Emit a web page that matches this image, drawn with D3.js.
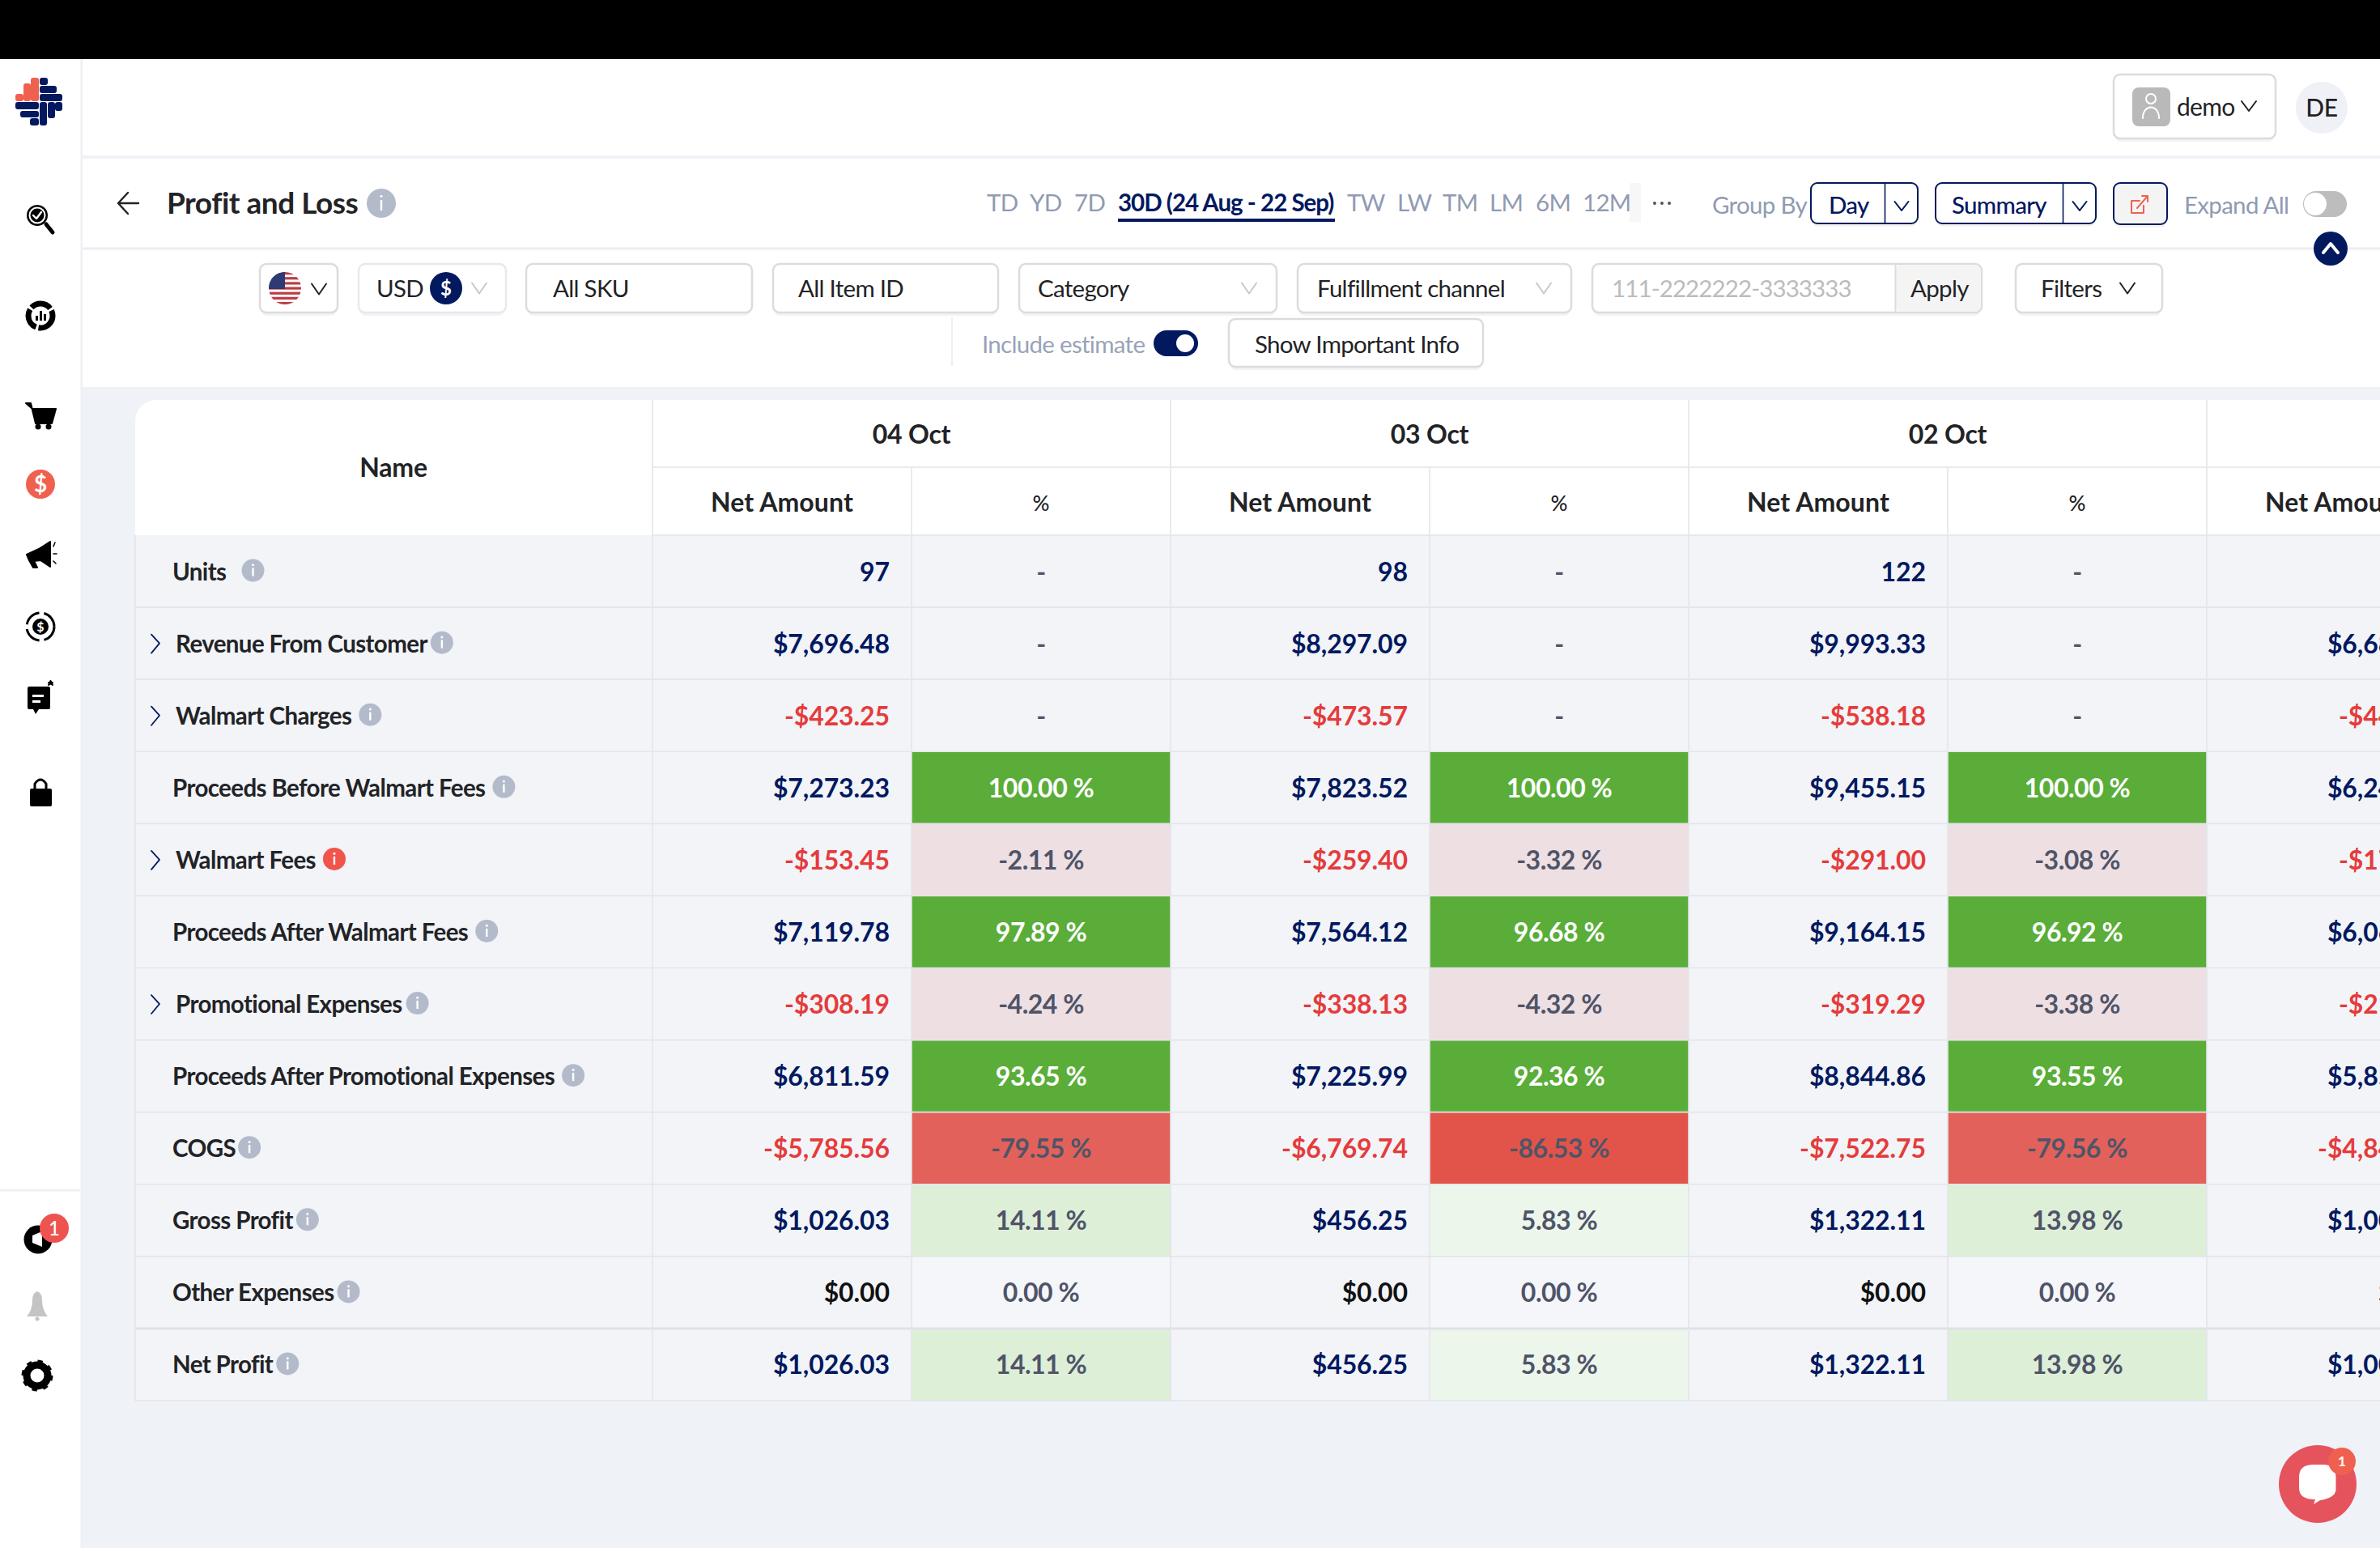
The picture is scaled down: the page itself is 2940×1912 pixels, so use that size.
<!DOCTYPE html>
<html><head><meta charset="utf-8">
<style>html,body{margin:0;padding:0;background:#eff2f7;overflow:hidden}svg{display:block;font-family:Lato,sans-serif}</style>
<script src="https://cdn.jsdelivr.net/npm/d3@7"></script></head><body>
<svg id="c" width="2940" height="1912" viewBox="0 0 2940 1912"></svg>
<script>
// ---- data ----
const rowNames=["Units","Revenue From Customer","Walmart Charges","Proceeds Before Walmart Fees","Walmart Fees","Proceeds After Walmart Fees","Promotional Expenses","Proceeds After Promotional Expenses","COGS","Gross Profit","Other Expenses","Net Profit"];
const expandableRows=["Revenue From Customer","Walmart Charges","Walmart Fees","Promotional Expenses"];
const infoGaps=[19,4,9,9,9,9,5,9,3,4,4,4];
const dateLabels=["04 Oct","03 Oct","02 Oct"];
const netAmount0=[97,7696.48,-423.25,7273.23,-153.45,7119.78,-308.19,6811.59,-5785.56,1026.03,0,1026.03];
const netAmount1=[98,8297.09,-473.57,7823.52,-259.40,7564.12,-338.13,7225.99,-6769.74,456.25,0,456.25];
const netAmount2=[122,9993.33,-538.18,9455.15,-291.00,9164.15,-319.29,8844.86,-7522.75,1322.11,0,1322.11];
const netAmount3=[null,6683.10,-441.20,6241.90,-175.30,6066.60,-215.10,5851.50,-4845.20,1006.30,0,1006.30];
const percent0=[null,null,null,100,-2.11,97.89,-4.24,93.65,-79.55,14.11,0,14.11];
const percent1=[null,null,null,100,-3.32,96.68,-4.32,92.36,-86.53,5.83,0,5.83];
const percent2=[null,null,null,100,-3.08,96.92,-3.38,93.55,-79.56,13.98,0,13.98];
const periodTabs=["TD","YD","7D","30D (24 Aug - 22 Sep)","TW","LW","TM","LM","6M","12M"];
const periodTabX=[1219,1272,1327,1381,1664,1726,1782,1840,1897,1955];

const svg=d3.select("#c");
const NAVY="#03195f",RED="#e53b3b",INK="#222326",MUTE="#8f9bb3",LINE="#e3e5ea",BOX="#dcdcdf";
const T=(s,x,y,size,fill,weight,anchor,ls)=>svg.append("text").attr("x",x).attr("y",y).attr("font-size",size).attr("fill",fill).attr("font-weight",weight||400).attr("text-anchor",anchor||"start").attr("letter-spacing",ls==null?-0.7:ls).text(s);
const R=(x,y,w,h,fill,rx,stroke,sw)=>svg.append("rect").attr("x",x).attr("y",y).attr("width",w).attr("height",h).attr("fill",fill||"none").attr("rx",rx||0).attr("stroke",stroke||"none").attr("stroke-width",sw||0);
const C=(x,y,r,fill)=>svg.append("circle").attr("cx",x).attr("cy",y).attr("r",r).attr("fill",fill);
const L=(x1,y1,x2,y2,s,w)=>svg.append("line").attr("x1",x1).attr("y1",y1).attr("x2",x2).attr("y2",y2).attr("stroke",s).attr("stroke-width",w||2);
const P=(d,fill,stroke,w)=>svg.append("path").attr("d",d).attr("fill",fill||"none").attr("stroke",stroke||"none").attr("stroke-width",w||0).attr("stroke-linecap","round").attr("stroke-linejoin","round");
const chevDown=(x,y,c,w=18,h=13)=>P(`M${x-w/2},${y-h/2}L${x},${y+h/2}L${x+w/2},${y-h/2}`,null,c,2);
const info=(x,y,r,fill)=>{C(x,y,r,fill||"#b3bbcb");R(x-1.2,y-r*.22,2.4,r*.72,"#fff");C(x,y-r*.48,1.5,"#fff");};
const box=(x,y,w,h,stroke,fill,rx)=>{R(x+1,y+4,w-2,h,"#f3f3f4",rx||8);return R(x,y,w,h,fill||"#fff",rx||8,stroke||BOX,2.5);};

// ---- page surfaces ----
R(0,0,2940,1912,"#eff2f7");
R(0,73,102,1839,"#fff");L(101,73,101,1912,"#eef0f5",3);
R(102,73,2838,405,"#fff");
L(102,194,2940,194,"#f0f2f6",4);L(102,307,2940,307,"#eceef2",3);
R(0,0,2940,73,"#000");

// ---- table ----
const columnKeys=d3.range(8);
const x=d3.scaleBand().domain(columnKeys).range([806,3366]);
const y=d3.scaleBand().domain(rowNames).range([661,1730]);
const amountColumns=[netAmount0,netAmount1,netAmount2,netAmount3];
const percentColumns=[percent0,percent1,percent2];
const loc=d3.formatLocale({decimal:".",thousands:",",grouping:[3],currency:["$",""],minus:"-"});
const money=loc.format("$,.2f"),pctFmt=loc.format(".2f");
const heat=d3.scaleThreshold().domain([-80,-50,0,0.005,10,50]).range(["#e2544a","#e2625b","#eedfe2","#f5f6fa","#edf6eb","#deefd8","#5aad38"]);

R(167,494,2800,167,"#fff",26);
R(167,540,2800,121,"#fff");
R(167,661,2800,1070,"#f2f4f8");

percentColumns.forEach((col,ci)=>{
  svg.append("g").selectAll("rect").data(col).join("rect")
    .attr("x",x(ci*2+1)).attr("width",x.bandwidth())
    .attr("y",(d,i)=>y(rowNames[i])).attr("height",y.bandwidth())
    .attr("fill",d=>d==null?"none":heat(d));
});
rowNames.forEach((n,i)=>{const yy=y(n)+y.bandwidth();L(167,yy,2940,yy,i==10?"#dfe1e6":LINE,i==10?3:1.6);});
L(806,577,2940,577,LINE,1.6);L(806,661,2940,661,LINE,1.6);
columnKeys.forEach(k=>{ if(x(k)<2940) { const odd=k%2==1; L(x(k),odd?577:494,x(k),1730,LINE,1.6); }});
L(167,661,167,1730,LINE,1.6);

T("Name",486,589,32,INK,700,"middle",-0.2);
dateLabels.forEach((d,i)=>T(d,x(i*2)+320,548,32,INK,700,"middle",-0.2));
[0,1,2,3].forEach(i=>T("Net Amount",x(i*2)+160,632,32,INK,700,"middle",0.1));
[0,1,2].forEach(i=>T("%",x(i*2+1)+160,631,26,INK,500,"middle",0));

rowNames.forEach((n,i)=>{
  const my=y(n)+y.bandwidth()/2, exp=expandableRows.includes(n);
  const t=T(n,exp?217:213,my+11,29.5,INK,700,"start",-0.6);
  const w=t.node().getComputedTextLength();
  info((exp?217:213)+w+infoGaps[i]+14,my-1,14,n=="Walmart Fees"?"#f0544a":null);
  if(exp) P(`M${187},${my-11}L${197},${my}L${187},${my+12}`,null,NAVY,1.8);
  amountColumns.forEach((col,ci)=>{
    const v=col[i]; if(v==null) return;
    const s=i==0?String(v):money(v), fill=v<0?RED:(v==0?"#111":NAVY);
    T(s,x(ci*2+1)-27,my+12,32,fill,700,"end",-0.1);
  });
  percentColumns.forEach((col,ci)=>{
    const v=col[i], fill=(v!=null&&v>=50)?"#fff":"#4f5468";
    T(v==null?"-":pctFmt(v)+" %",x(ci*2+1)+160,my+12,32,fill,700,"middle",-0.5);
  });
});

// ---- top bar ----
box(2611,92,200,79);
R(2634,108,47,48,"#b9b9b9",8);
C(2657,122,6,"none").attr("stroke","#fff").attr("stroke-width",2);
P("M2647,146 C2647,128 2667,128 2667,146",null,"#fff",2);
T("demo",2689,143,30,INK,400);chevDown(2778,131,INK,18,12);
C(2868,133,32,"#eff1f6");T("DE",2868,144,30,INK,500,"middle",-0.4);

// ---- title ----
P("M171,251H146M158,238L146,251L158,264",null,INK,2.4);
T("Profit and Loss",206,264,37,INK,700,"start",-0.5);
info(471,251,18);

// ---- period tabs ----
periodTabs.forEach((s,i)=>{const a=i==3;T(s,periodTabX[i],261,29.5,a?NAVY:MUTE,a?700:400,"start",a?-1:-0.7);});
R(1381,270,268,4,NAVY);
R(2013,226,14,48,"#f7f7f7");
[2044,2053,2062].forEach(cx=>C(cx,251,2,"#555"));
T("Group By",2115,264,29.5,MUTE,400);
box(2237,226,132,50,NAVY).attr("stroke-width",2);L(2328.5,226,2328.5,276,NAVY,1.6);
T("Day",2259,264,29.5,NAVY,500);chevDown(2349,254.5,NAVY,17,11);
box(2391,226,198,50,NAVY).attr("stroke-width",2);L(2548.5,226,2548.5,276,NAVY,1.6);
T("Summary",2411,264,29.5,NAVY,500);chevDown(2569,254.5,NAVY,17,11);
box(2611,226,66,51,NAVY,"#f4f4f5").attr("stroke-width",2);
P("M2643,248H2633V263H2648V254M2640,257L2653,242M2646,242H2653V249",null,"#f0604f",2);
T("Expand All",2698,264,29.5,MUTE,400);
R(2845,236,54,32,"#bdbdbd",16);C(2860,252,14,"#fff");
C(2879,307,21,NAVY);P("M2870,312L2879,301L2888,312",null,"#fff",4);

// ---- filter row ----
box(321,326,96,60);
svg.append("clipPath").attr("id","flagClip").append("circle").attr("cx",352).attr("cy",356).attr("r",20);
const flag=svg.append("g").attr("clip-path","url(#flagClip)");
d3.range(7).forEach(i=>flag.append("rect").attr("x",332).attr("y",336+i*40/6.5).attr("width",40).attr("height",3.2).attr("fill","#bd3d44"));
flag.append("rect").attr("x",332).attr("y",336).attr("width",20).attr("height",21).attr("fill","#2d3a73");
chevDown(394,357,INK);
box(443,326,182,60,"#e6e9f0");
T("USD",465,367,29.5,INK,400);C(551,356,20,NAVY);T("$",551,365,24,"#fff",700,"middle",0);chevDown(592,356,"#c5c8cf");
box(650,326,279,60);T("All SKU",683,367,29.5,INK,400);
box(955,326,278,60);T("All Item ID",986,367,29.5,INK,400);
box(1259,326,318,60);T("Category",1282,367,29.5,INK,400);chevDown(1543,356,"#c5c8cf");
box(1603,326,338,60);T("Fulfillment channel",1627,367,29.5,INK,400);chevDown(1907,356,"#c5c8cf");
box(1967,326,481,60);R(2342,327,105,58,"#f4f4f5",7);L(2341.5,326,2341.5,386,BOX,2);
T("111-2222222-3333333",1991,367,29.5,"#bcbcbc",400,"start",-0.9);T("Apply",2360,367,29.5,INK,400);
box(2490,326,181,60);T("Filters",2521,367,29.5,INK,400);chevDown(2628,356,INK);
L(1176,392,1176,452,"#eeeff2",2);
T("Include estimate",1213,436,29.5,"#98a3b8",400);
R(1425,408,55,32,NAVY,16);C(1464,424,11,"#fff");
box(1518,394,314,59);T("Show Important Info",1550,436,29.5,INK,400);

// ---- logo ----
[[19,116,10,9],[29,103,9,22],[38,96,10,29]].forEach(b=>R(b[0],b[1],b[2],b[3],"#f0604f",3));
[[49,96,10,9],[49,106,21,9],[49,116,28,9],[19,126,29,9],[25,137,23,8],[37,146,11,9],[49,126,9,29],[59,126,9,20],[68,126,9,11]].forEach(b=>R(b[0],b[1],b[2],b[3],"#03195f",3));

// ---- sidebar icons ----
C(46,266,13,"#000");C(46,266,10.5,"#fff");C(46,266,8.5,"#000");P("M41,266L45,270L51,262",null,"#fff",2.4);P("M57,277L65,287",null,"#000",5);
C(50,390,15,"#fff").attr("stroke","#000").attr("stroke-width",7).attr("stroke-dasharray","26 3");[[44,6],[49,12],[54,8]].forEach(b=>R(b[0],396-b[1],3,b[1],"#000"));
P("M32,498H38L44,523H64L69,505H40Z","#000","#000",2);C(47,527,3.5,"#000");C(60,527,3.5,"#000");
C(50,598,18,"#f0604f");T("$",50,608,28,"#fff",700,"middle",0);
P("M33,685L48,678L62,669V700L50,692L42,693L46,701H41L36,692Z","#000","#000",2);P("M66,675L68,670M66,684H70M66,693L69,696",null,"#000",1.5);
C(50,774,10,"#000");svg.append("circle").attr("cx",50).attr("cy",774).attr("r",17).attr("fill","none").attr("stroke","#000").attr("stroke-width",3).attr("stroke-dasharray","22 6");T("$",50,780,16,"#fff",700,"middle",0);
P("M34,850Q34,848 36,848H60Q62,848 62,850V874Q62,876 60,876H48L44,882L41,876H36Q34,876 34,874Z","#000");R(40,858,14,3,"#fff");R(40,865,10,3,"#fff");P("M60,846l2.5,-5l2.5,5l-5,-3h5Z","#000","#000",2);
R(37,974,27,22,"#000",2);P("M43,974V968Q50,958 57,968V974",null,"#000",3);
L(0,1470,99,1470,"#eef0f3",3);
C(47,1531,17.5,"#000");P("M40,1526L52,1521V1540L40,1535Z","#fff");
C(67,1517,18,"#ee5350");T("1",67,1526,24,"#fff",500,"middle",0);
P("M33,1626Q40,1618 40,1606Q40,1597 46,1595Q52,1597 52,1606Q52,1618 59,1626Z","#c4c4c4");C(46,1629,2.5,"#c4c4c4");
C(46,1699,13,"none").attr("stroke","#000").attr("stroke-width",9);C(46,1699,17,"none").attr("stroke","#000").attr("stroke-width",5).attr("stroke-dasharray","6 7.35");

// ---- chat widget ----
C(2863,1833,48,"#e5535c");
P("M2858,1809H2870Q2885,1809 2885.5,1824V1840Q2885,1850 2866,1853L2858,1858L2860,1852Q2840,1852 2840,1838V1824Q2840,1809 2858,1809Z","#fff");
C(2893,1805,17,"#f0604f");T("1",2893,1811,17,"#fff",700,"middle",0);
</script></body></html>
